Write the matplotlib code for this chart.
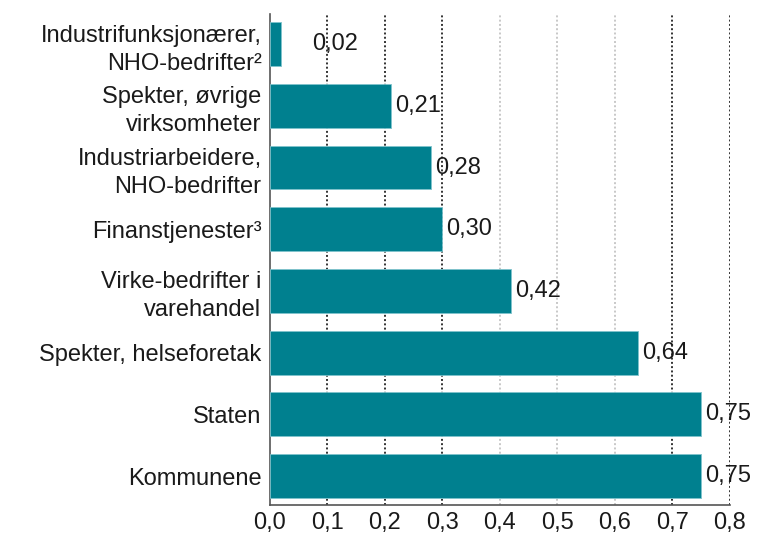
import matplotlib
matplotlib.use("Agg")
import matplotlib.pyplot as plt
from matplotlib.ticker import FuncFormatter

plt.rcParams['font.family'] = ['Liberation Sans', 'DejaVu Sans']

categories = [
    "Kommunene",
    "Staten",
    "Spekter, helseforetak",
    "Virke-bedrifter i\nvarehandel",
    "Finanstjenester³",
    "Industriarbeidere,\nNHO-bedrifter",
    "Spekter, øvrige\nvirksomheter",
    "Industrifunksjonærer,\nNHO-bedrifter²",
]
values = [0.75, 0.75, 0.64, 0.42, 0.30, 0.28, 0.21, 0.02]
value_labels = ["0,75", "0,75", "0,64", "0,42", "0,30", "0,28", "0,21", "0,02"]
xticks = [0.0, 0.1, 0.2, 0.3, 0.4, 0.5, 0.6, 0.7, 0.8]

bar_color = "#00808F"
text_color = "#1A1A1A"
fs = 17

fig = plt.figure(figsize=(7.58, 5.35), dpi=100)
ax = fig.add_axes([0.356, 0.056, 0.607, 0.918])

y = list(range(len(categories)))
ax.barh(y, values, height=0.71, color=bar_color, edgecolor="#7FC3CC",
        linewidth=0.6, zorder=3)

# vertical dotted gridlines
for xv in xticks[1:]:
    light = xv in (0.4, 0.5, 0.6)
    ax.axvline(xv, color="#C8C8C8" if light else "#333333",
               linestyle=(0, (1.0, 1.2)), linewidth=1.4, zorder=1)

for yi, v, lab in zip(y, values, value_labels):
    off = 22 if v < 0.05 else 3
    ax.annotate(lab, (v, yi), xytext=(off, 0), textcoords="offset points",
                va="center", ha="left", fontsize=fs, color=text_color, zorder=4)

ax.set_yticks(y)
ax.set_yticklabels(categories, fontsize=fs, color=text_color,
                   linespacing=1.35, ha="right")
ax.set_xticks(xticks)
ax.xaxis.set_major_formatter(FuncFormatter(lambda v, p: f"{v:.1f}".replace(".", ",")))
ax.tick_params(axis="x", labelsize=fs, colors=text_color, length=0, pad=5)
ax.tick_params(axis="y", length=0, pad=6)

ax.set_xlim(0, 0.8)
ax.set_ylim(-0.47, 7.49)

for s in ("top", "right"):
    ax.spines[s].set_visible(False)
for s in ("left", "bottom"):
    ax.spines[s].set_color("#555555")
    ax.spines[s].set_linewidth(1.2)

fig.savefig("out.png", dpi=100)
